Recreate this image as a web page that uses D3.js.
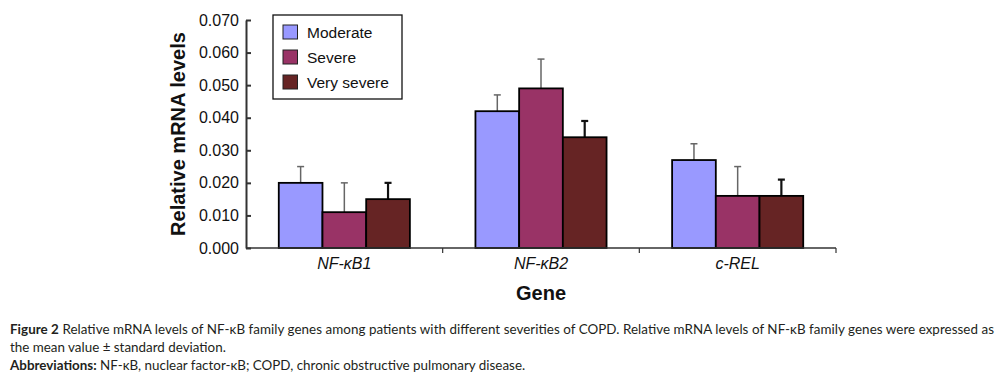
<!DOCTYPE html>
<html>
<head>
<meta charset="utf-8">
<script src="https://cdn.jsdelivr.net/npm/d3@7"></script>
<style>
  body { margin: 0; background: #fff; }
  svg { display: block; }
</style>
</head>
<body>
<div id="chart"></div>
<script>
// data
const genes = ["NF-\u03baB1", "NF-\u03baB2", "c-REL"];
const groups = ["Moderate", "Severe", "Very severe"];
const moderate = [0.020, 0.042, 0.027];
const severe = [0.011, 0.049, 0.016];
const verySevere = [0.015, 0.034, 0.016];
const moderateSD = [0.005, 0.005, 0.005];
const severeSD = [0.009, 0.009, 0.009];
const verySevereSD = [0.005, 0.005, 0.005];
const yTicks = [0, 0.01, 0.02, 0.03, 0.04, 0.05, 0.06, 0.07];

const colors = { "Moderate": "#9999ff", "Severe": "#993366", "Very severe": "#662424" };
const errColors = { "Moderate": "#666", "Severe": "#666", "Very severe": "#111" };
const errWidths = { "Moderate": 1.5, "Severe": 1.5, "Very severe": 2.2 };

const width = 998, height = 376;
const svg = d3.select("#chart").append("svg")
    .attr("width", width)
    .attr("height", height);

const plotLeft = 246, plotRight = 836, plotTop = 20, plotBottom = 248;

const x0 = d3.scaleBand().domain(genes).range([plotLeft, plotRight]).padding(0);
const x1 = d3.scaleBand().domain(groups).range([0, x0.bandwidth()]).paddingInner(0).paddingOuter(0.75);
const y = d3.scaleLinear().domain([0, 0.07]).range([plotBottom, plotTop]);

// build rows for bars
const values = { "Moderate": moderate, "Severe": severe, "Very severe": verySevere };
const sds = { "Moderate": moderateSD, "Severe": severeSD, "Very severe": verySevereSD };
const rows = [];
genes.forEach((g, i) => {
    groups.forEach(s => {
        rows.push({ gene: g, group: s, value: values[s][i], sd: sds[s][i] });
    });
});

// error bars (upper only), drawn behind bars
const err = svg.append("g");
rows.forEach(d => {
    const cx = x0(d.gene) + x1(d.group) + x1.bandwidth() / 2;
    err.append("line")
        .attr("x1", cx).attr("x2", cx)
        .attr("y1", y(d.value)).attr("y2", y(d.value + d.sd))
        .attr("stroke", errColors[d.group]).attr("stroke-width", errWidths[d.group]);
    err.append("line")
        .attr("x1", cx - 3.5).attr("x2", cx + 3.5)
        .attr("y1", y(d.value + d.sd)).attr("y2", y(d.value + d.sd))
        .attr("stroke", errColors[d.group]).attr("stroke-width", errWidths[d.group]);
});

// bars
svg.append("g").selectAll("rect")
    .data(rows)
    .join("rect")
    .attr("x", d => x0(d.gene) + x1(d.group))
    .attr("y", d => y(d.value))
    .attr("width", x1.bandwidth())
    .attr("height", d => y(0) - y(d.value))
    .attr("fill", d => colors[d.group])
    .attr("stroke", "#000")
    .attr("stroke-width", 1.8);

// y axis, ticks pointing inward
const yAxis = svg.append("g")
    .attr("transform", `translate(${plotLeft},0)`)
    .call(d3.axisRight(y).tickValues(yTicks).tickFormat(d3.format(".3f")).tickSize(5).tickSizeOuter(0));
yAxis.select(".domain").attr("stroke", "#333").attr("stroke-width", 2);
yAxis.selectAll(".tick line").attr("stroke", "#333").attr("stroke-width", 2);
yAxis.selectAll(".tick text")
    .attr("x", -7)
    .attr("text-anchor", "end")
    .attr("fill", "#111")
    .style("font", "16px 'Liberation Sans', Arial, sans-serif");

// x axis with separators between categories
const xAxisG = svg.append("g").attr("transform", `translate(0,${plotBottom})`);
xAxisG.append("line")
    .attr("x1", plotLeft).attr("x2", plotRight)
    .attr("stroke", "#333").attr("stroke-width", 1.5);
xAxisG.selectAll("line.sep")
    .data(genes)
    .join("line")
    .attr("class", "sep")
    .attr("x1", d => x0(d) + x0.bandwidth()).attr("x2", d => x0(d) + x0.bandwidth())
    .attr("y1", 0).attr("y2", 5)
    .attr("stroke", "#333").attr("stroke-width", 1.2);
xAxisG.selectAll("text")
    .data(genes)
    .join("text")
    .attr("x", d => x0(d) + x0.bandwidth() / 2)
    .attr("y", 21)
    .attr("text-anchor", "middle")
    .attr("fill", "#111")
    .style("font", "italic 16px 'Liberation Sans', Arial, sans-serif")
    .text(d => d);

// axis titles
svg.append("text")
    .attr("transform", `translate(185,${(plotTop + plotBottom) / 2}) rotate(-90)`)
    .attr("text-anchor", "middle")
    .attr("fill", "#111")
    .style("font", "bold 20px 'Liberation Sans', Arial, sans-serif")
    .text("Relative mRNA levels");

svg.append("text")
    .attr("x", (plotLeft + plotRight) / 2)
    .attr("y", 300)
    .attr("text-anchor", "middle")
    .attr("fill", "#111")
    .style("font", "bold 20px 'Liberation Sans', Arial, sans-serif")
    .text("Gene");

// legend
const legend = svg.append("g");
legend.append("rect")
    .attr("x", 273).attr("y", 15).attr("width", 129).attr("height", 84)
    .attr("fill", "#fff").attr("stroke", "#111").attr("stroke-width", 1.3);
groups.forEach((s, i) => {
    const ly = 25 + i * 25;
    legend.append("rect")
        .attr("x", 283).attr("y", ly).attr("width", 14.5).attr("height", 14)
        .attr("fill", colors[s]).attr("stroke", "#222").attr("stroke-width", 1);
    legend.append("text")
        .attr("x", 307).attr("y", ly + 12.5)
        .attr("fill", "#111")
        .style("font", "15.5px 'Liberation Sans', Arial, sans-serif")
        .text(s);
});

// caption
const capFont = "13.4px Lato, 'Open Sans', sans-serif";
const cap = svg.append("g").style("font", capFont).attr("fill", "#231f20");
const l1 = cap.append("text").attr("x", 10).attr("y", 334)
    .attr("textLength", 984).attr("lengthAdjust", "spacing");
l1.append("tspan").attr("font-weight", "bold").text("Figure 2");
l1.append("tspan").text(" Relative mRNA levels of NF-\u03baB family genes among patients with different severities of COPD. Relative mRNA levels of NF-\u03baB family genes were expressed as");
cap.append("text").attr("x", 10).attr("y", 352)
    .text("the mean value \u00b1 standard deviation.");
const l3 = cap.append("text").attr("x", 10).attr("y", 370);
l3.append("tspan").attr("font-weight", "bold").text("Abbreviations:");
l3.append("tspan").text(" NF-\u03baB, nuclear factor-\u03baB; COPD, chronic obstructive pulmonary disease.");
</script>
</body>
</html>
